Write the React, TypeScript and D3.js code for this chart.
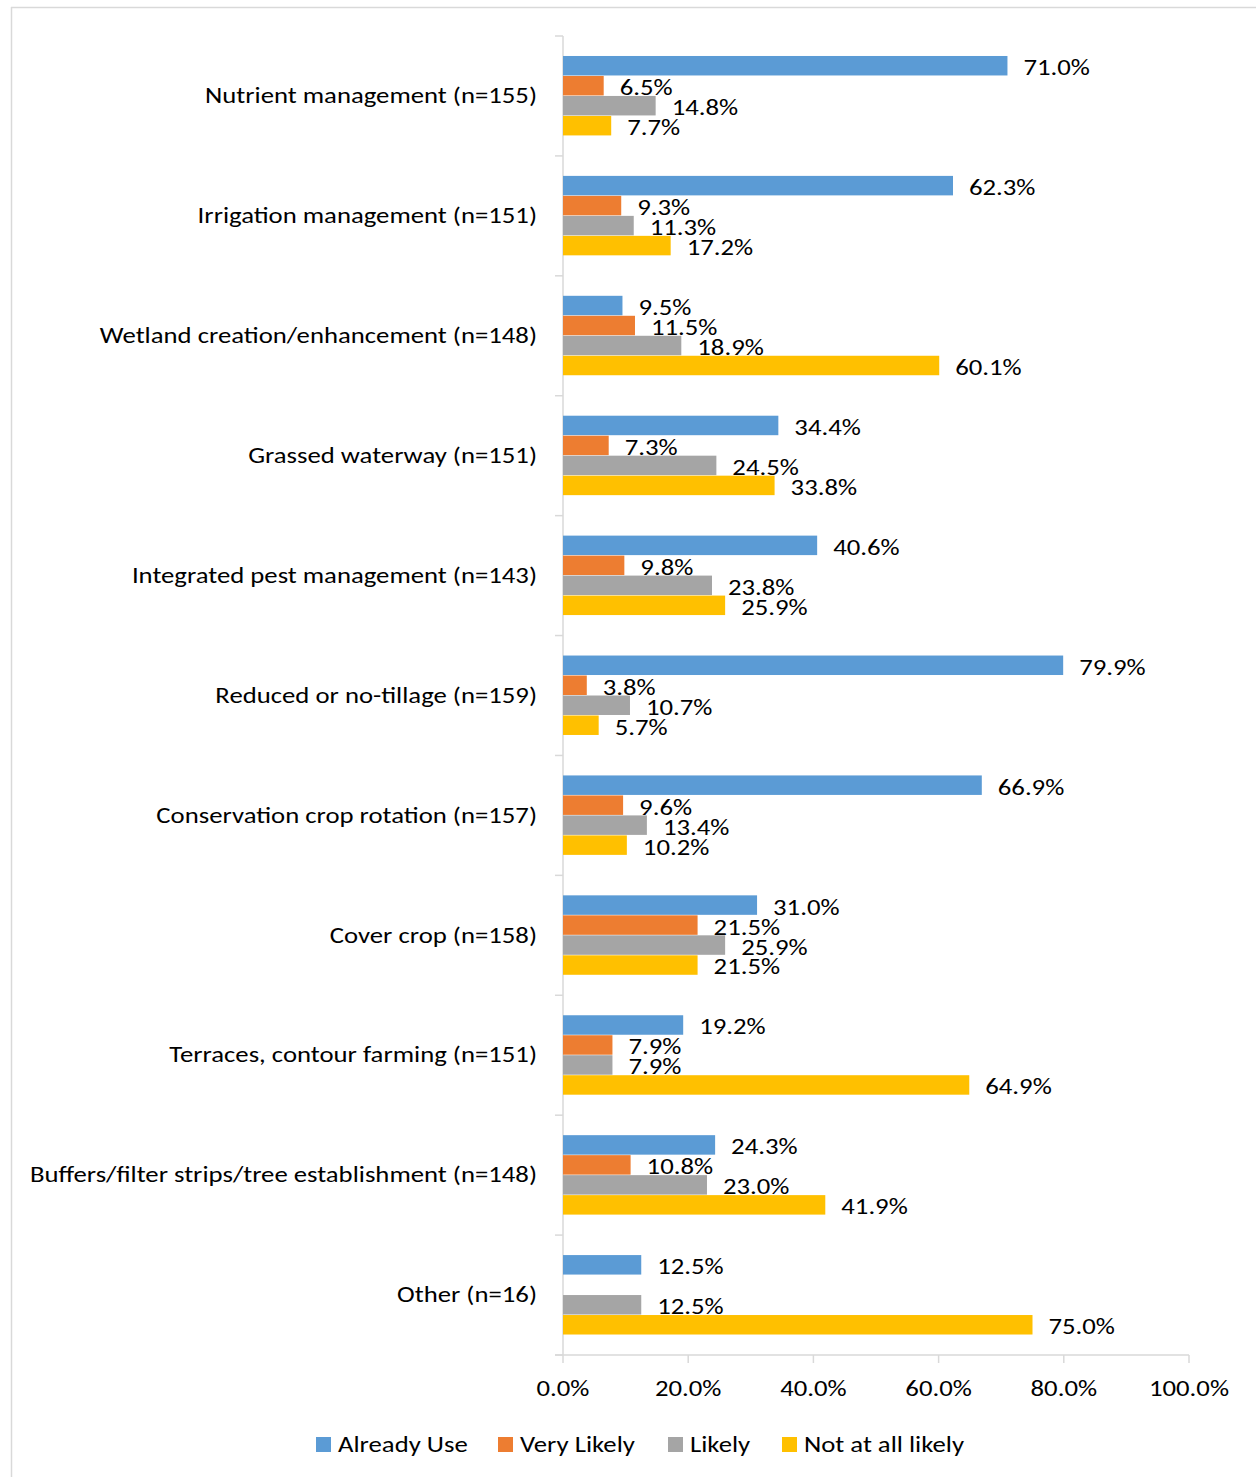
import React from "react";
import * as d3 from "d3";

const categories = [
  "Nutrient management (n=155)",
  "Irrigation management (n=151)",
  "Wetland creation/enhancement (n=148)",
  "Grassed waterway (n=151)",
  "Integrated pest management (n=143)",
  "Reduced or no-tillage (n=159)",
  "Conservation crop rotation (n=157)",
  "Cover crop (n=158)",
  "Terraces, contour farming (n=151)",
  "Buffers/filter strips/tree establishment (n=148)",
  "Other (n=16)",
];

const seriesNames = ["Already Use", "Very Likely", "Likely", "Not at all likely"];
const seriesColors = ["#5b9bd5", "#ed7d31", "#a5a5a5", "#ffc000"];

const alreadyUse = [71.0, 62.3, 9.5, 34.4, 40.6, 79.9, 66.9, 31.0, 19.2, 24.3, 12.5];
const veryLikely: (number | null)[] = [6.5, 9.3, 11.5, 7.3, 9.8, 3.8, 9.6, 21.5, 7.9, 10.8, null];
const likely = [14.8, 11.3, 18.9, 24.5, 23.8, 10.7, 13.4, 25.9, 7.9, 23.0, 12.5];
const notAtAll = [7.7, 17.2, 60.1, 33.8, 25.9, 5.7, 10.2, 21.5, 64.9, 41.9, 75.0];

const xTicks = [0, 20, 40, 60, 80, 100];

const W = 1256;
const H = 1477;
const FONT = "Carlito, Lato, 'Open Sans', sans-serif";
const SX = 1.215;

function T({ x, y, anchor = "start", children }: { x: number; y: number; anchor?: string; children: React.ReactNode }) {
  return (
    <text
      transform={`translate(${x},${y}) scale(${SX},1)`}
      textAnchor={anchor}
      dominantBaseline="central"
      fontSize={22}
      fill="#000"
    >
      {children}
    </text>
  );
}

export default function App() {
  const x = d3.scaleLinear().domain([0, 100]).range([563, 1189]);
  const y = d3.scaleBand().domain(categories).range([36, 1355]).paddingInner(0).paddingOuter(0);
  const inner = d3.scaleBand().domain(seriesNames).range([0, y.bandwidth()]).paddingOuter(1).paddingInner(0);

  const allSeries = [alreadyUse, veryLikely, likely, notAtAll];
  const axisColor = "#d9d9d9";

  return (
    <svg
      width={W}
      height={H}
      style={{ position: "absolute", left: 0, top: 0, display: "block" }}
      fontFamily={FONT}
    >
      <rect x={0} y={0} width={W} height={H} fill="#ffffff" />
      {/* chart frame */}
      <line x1={11} y1={7.5} x2={W} y2={7.5} stroke={axisColor} strokeWidth={1.5} />
      <line x1={11.5} y1={7} x2={11.5} y2={H} stroke={axisColor} strokeWidth={1.5} />

      {/* y axis */}
      <line x1={563} y1={36} x2={563} y2={1355} stroke={axisColor} strokeWidth={1.5} />
      {d3.range(categories.length + 1).map((i) => {
        const yy = 36 + i * y.step();
        return <line key={"yt" + i} x1={555} x2={563} y1={yy} y2={yy} stroke={axisColor} strokeWidth={1.5} />;
      })}

      {/* x axis */}
      <line x1={555} y1={1355} x2={1189} y2={1355} stroke={axisColor} strokeWidth={1.5} />
      {xTicks.map((t) => (
        <g key={"xt" + t}>
          <line x1={x(t)} x2={x(t)} y1={1355} y2={1363} stroke={axisColor} strokeWidth={1.5} />
          <T x={x(t)} y={1389} anchor="middle">
            {t.toFixed(1) + "%"}
          </T>
        </g>
      ))}

      {/* category labels */}
      {categories.map((c) => (
        <T key={c} x={537} y={(y(c) as number) + y.bandwidth() / 2} anchor="end">
          {c}
        </T>
      ))}

      {/* bars */}
      {categories.map((c, ci) => (
        <g key={"g" + ci} transform={`translate(0,${y(c)})`}>
          {allSeries.map((s, si) => {
            const v = s[ci];
            if (v === null || v === undefined) return null;
            const by = inner(seriesNames[si]) as number;
            const bh = inner.bandwidth();
            return (
              <g key={"b" + si}>
                <rect x={x(0)} y={by} width={x(v) - x(0)} height={bh - 0.5} fill={seriesColors[si]} />
                <T x={x(v) + 16} y={by + bh / 2 + 2}>
                  {v.toFixed(1) + "%"}
                </T>
              </g>
            );
          })}
        </g>
      ))}

      {/* legend */}
      {seriesNames.map((n, i) => {
        const lx = [316, 498, 668, 782][i];
        return (
          <g key={"l" + i}>
            <rect x={lx} y={1437} width={15} height={15} fill={seriesColors[i]} />
            <T x={lx + 22} y={1445}>
              {n}
            </T>
          </g>
        );
      })}
    </svg>
  );
}
